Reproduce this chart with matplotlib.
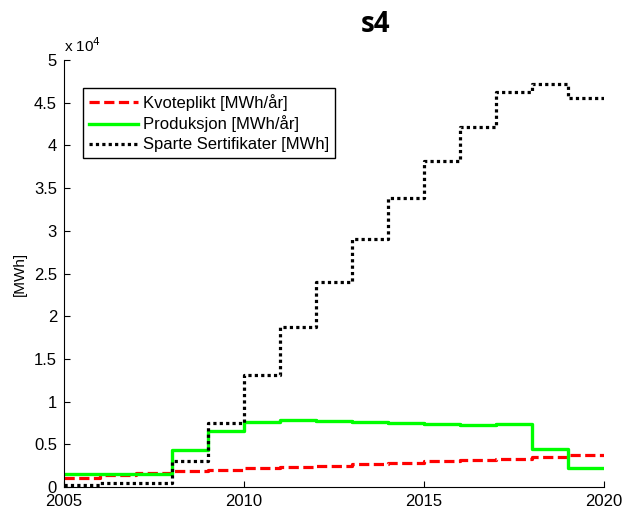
import matplotlib
matplotlib.use('Agg')
import matplotlib.pyplot as plt
from matplotlib.ticker import FuncFormatter

plt.rcParams['font.family'] = ['Liberation Sans', 'DejaVu Sans']

# yearly values, MWh (last value repeats the 2019 level to close the stairs)
years = list(range(2005, 2021))
kvoteplikt = [1100, 1350, 1600, 1830, 2020, 2180, 2370, 2490, 2650, 2800,
              3000, 3150, 3300, 3500, 3700, 3700]
produksjon = [1500, 1500, 1500, 4280, 6500, 7630, 7900, 7750, 7630, 7510,
              7430, 7280, 7350, 4475, 2180, 2180]
sparte = [250, 500, 500, 3000, 7510, 13120, 18700, 24060, 29060, 33790,
          38160, 42190, 46200, 47200, 45500, 45500]

labels = ['Kvoteplikt [MWh/år]', 'Produksjon [MWh/år]', 'Sparte Sertifikater [MWh]']

fig = plt.figure(figsize=(6.23, 5.09), dpi=100)
ax = fig.add_axes([64 / 623, 22 / 509, 540 / 623, 427 / 509])

ax.step(years, kvoteplikt, where='post', color=(1, 0, 0), lw=2.3,
        dashes=(3.2, 1.4), label=labels[0])
ax.step(years, produksjon, where='post', color=(0, 1, 0), lw=2.4,
        label=labels[1])
ax.step(years, sparte, where='post', color='black', lw=2.3,
        dashes=(1, 1), label=labels[2])

ax.set_xlim(2005, 2020)
ax.set_ylim(0, 50000)
ax.set_xticks([2005, 2010, 2015, 2020])
ax.set_yticks([i * 5000 for i in range(11)])
ax.yaxis.set_major_formatter(FuncFormatter(lambda v, p: f'{v / 1e4:g}'))
ax.tick_params(direction='in', labelsize=12, length=4, width=0.8)
ax.tick_params(axis='x', pad=5)
ax.tick_params(axis='y', pad=5)

for s in ['top', 'right']:
    ax.spines[s].set_visible(False)

ax.set_ylabel('[MWh]', fontsize=11, labelpad=5)
fig.text(375 / 623, 1 - 25 / 509, 's4', fontsize=20, fontweight='bold',
         family=['Open Sans', 'DejaVu Sans'], ha='center', va='center')
ax.text(0.0, 1.012, 'x 10$^4$', transform=ax.transAxes, fontsize=11,
        ha='left', va='bottom')

leg = ax.legend(loc='upper left', bbox_to_anchor=(0.036, 0.935), fontsize=12,
                fancybox=False, edgecolor='black', framealpha=1,
                handlelength=2.9, borderpad=0.35, labelspacing=0.3,
                handletextpad=0.35, borderaxespad=0)
leg.get_frame().set_linewidth(1.0)

fig.savefig('out.png', dpi=100)
